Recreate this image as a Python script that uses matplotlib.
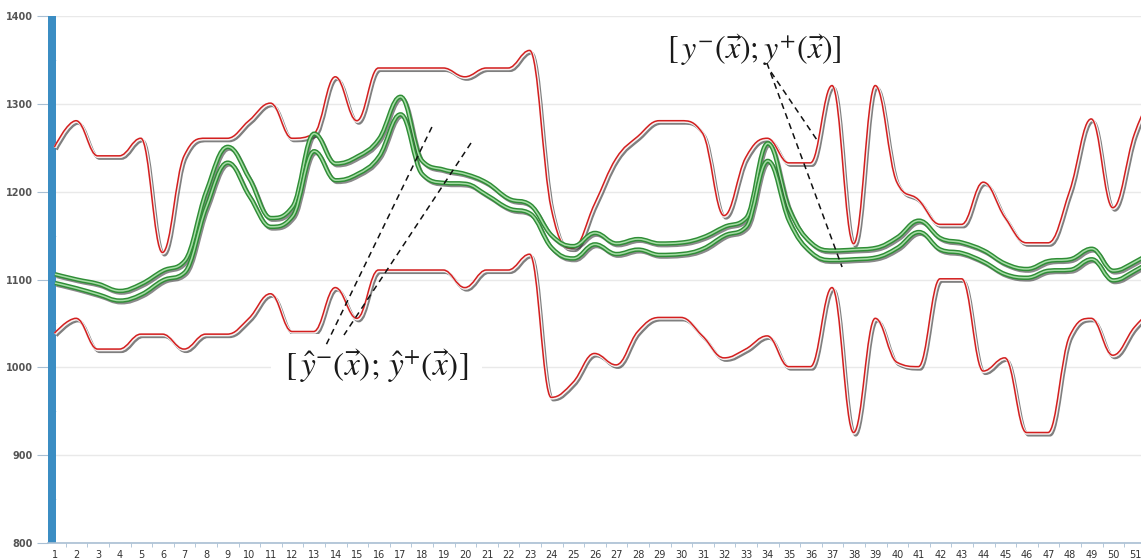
import numpy as np
import matplotlib
matplotlib.use("Agg")
import matplotlib.pyplot as plt
import matplotlib.patheffects as pe
from matplotlib.path import Path
from matplotlib.patches import PathPatch

plt.rcParams['mathtext.fontset'] = 'stix'

# categories on the x axis
categories = list(range(1, 53))
tick_labels = [str(c) for c in categories]

# upper / lower bounds (red)
upper_red = [1250, 1280, 1240, 1240, 1260, 1130, 1240, 1260, 1260, 1280,
             1300, 1260, 1265, 1330, 1280, 1340, 1340, 1340, 1340, 1330,
             1340, 1340, 1360, 1180, 1135, 1185, 1237, 1262, 1280, 1280,
             1266, 1172, 1238, 1260, 1232, 1232, 1320, 1140, 1320, 1210,
             1190, 1162, 1162, 1210, 1170, 1141, 1141, 1200, 1282, 1181,
             1265, 1320]
lower_red = [1038, 1055, 1020, 1020, 1037, 1037, 1020, 1037, 1037, 1055,
             1083, 1040, 1040, 1090, 1055, 1110, 1110, 1110, 1110, 1090,
             1110, 1110, 1128, 965, 982, 1015, 1002, 1040, 1056, 1056,
             1035, 1010, 1020, 1035, 1000, 1000, 1090, 925, 1055, 1005,
             1000, 1100, 1100, 995, 1010, 925, 925, 1035, 1055, 1013,
             1045, 1070]

# estimated bounds (green)
upper_green = [1106, 1100, 1095, 1087, 1095, 1110, 1121, 1200, 1251, 1215,
               1170, 1183, 1266, 1232, 1240, 1260, 1308, 1235, 1225, 1220,
               1210, 1192, 1185, 1150, 1138, 1153, 1141, 1146, 1141, 1142,
               1148, 1160, 1170, 1255, 1180, 1142, 1133, 1134, 1136, 1148,
               1167, 1147, 1142, 1133, 1118, 1112, 1121, 1123, 1135, 1110,
               1120, 1135]
lower_green = [1096, 1090, 1083, 1076, 1083, 1099, 1108, 1182, 1233, 1195,
               1160, 1172, 1246, 1213, 1220, 1240, 1288, 1220, 1210, 1209,
               1196, 1181, 1175, 1136, 1124, 1140, 1129, 1134, 1128, 1129,
               1135, 1150, 1160, 1235, 1166, 1131, 1122, 1123, 1125, 1136,
               1154, 1134, 1130, 1120, 1106, 1102, 1110, 1111, 1123, 1099,
               1110, 1125]

# the single blue bar at category 1
bar_category = [1]
bar_value = [1400]


def spline_path(xs, ys, smoothing=1.5):
    # Highcharts-like spline
    n = len(xs)
    denom = smoothing + 1
    ctrl = []
    for i in range(n):
        x, y = xs[i], ys[i]
        if i == 0 or i == n - 1:
            ctrl.append(((x, y), (x, y)))
            continue
        lx, ly = xs[i - 1], ys[i - 1]
        nx, ny = xs[i + 1], ys[i + 1]
        lcx = (smoothing * x + lx) / denom
        lcy = (smoothing * y + ly) / denom
        rcx = (smoothing * x + nx) / denom
        rcy = (smoothing * y + ny) / denom
        corr = ((rcy - lcy) * (rcx - x)) / (rcx - lcx) + y - rcy
        lcy += corr
        rcy += corr
        if lcy > ly and lcy > y:
            lcy = max(ly, y)
            rcy = 2 * y - lcy
        elif lcy < ly and lcy < y:
            lcy = min(ly, y)
            rcy = 2 * y - lcy
        if rcy > ny and rcy > y:
            rcy = max(ny, y)
            lcy = 2 * y - rcy
        elif rcy < ny and rcy < y:
            rcy = min(ny, y)
            lcy = 2 * y - rcy
        ctrl.append(((lcx, lcy), (rcx, rcy)))
    verts = [(xs[0], ys[0])]
    codes = [Path.MOVETO]
    for i in range(1, n):
        verts += [ctrl[i - 1][1], ctrl[i][0], (xs[i], ys[i])]
        codes += [Path.CURVE4] * 3
    return Path(verts, codes)


fig = plt.figure(figsize=(11.41, 5.6), dpi=100)
ax = fig.add_axes([48 / 1141, 17 / 560, 1093 / 1141, 527 / 560])

# blue bar
ax.bar([c - 0.14 for c in bar_category], [v - 800 for v in bar_value],
       bottom=800, width=0.37, color='#3b8dc3', zorder=2)

red_fx = [pe.SimpleLineShadow(offset=(1.1, -1.4), shadow_color='#2a2a2a',
                              alpha=0.6, linewidth=2.0),
          pe.Stroke(linewidth=2.2, foreground='#f6f0f0'),
          pe.Stroke(linewidth=1.1, foreground='#d41f1f', offset=(-0.4, 0.5))]
green_fx = [pe.SimpleLineShadow(offset=(1.1, -1.4), shadow_color='#2a2a2a',
                                alpha=0.55, linewidth=2.8),
            pe.Stroke(linewidth=3.2, foreground='#2f8d36'),
            pe.Stroke(linewidth=1.1, foreground='#a6dda6')]

for series, fx in [(upper_red, red_fx), (lower_red, red_fx),
                   (upper_green, green_fx), (lower_green, green_fx)]:
    patch = PathPatch(spline_path(categories, series), fill=False,
                      lw=1, path_effects=fx, zorder=3)
    ax.add_patch(patch)

# grid and axes styling
ax.set_yticks(range(800, 1401, 100))
ax.set_yticks(range(850, 1400, 100), minor=True)
ax.yaxis.grid(True, which='major', color='#e9e9e9', lw=1, zorder=0)
ax.set_axisbelow(True)
for s in ['left', 'right', 'top']:
    ax.spines[s].set_visible(False)
ax.spines['bottom'].set_color('#a9bfd3')
ax.spines['bottom'].set_linewidth(1.2)

ax.set_xticks(categories)
ax.set_xticklabels(tick_labels)
ax.set_xticks([c + 0.5 for c in categories], minor=True)
ax.tick_params(axis='x', which='major', length=0, pad=5, labelsize=7,
               labelcolor='#333333')
ax.tick_params(axis='x', which='minor', length=3, color='#a9bfd3')
ax.tick_params(axis='y', which='major', length=8, color='#a9bfd3',
               labelsize=7, labelcolor='#555555', pad=3)
ax.tick_params(axis='y', which='minor', length=6, direction='in',
               color='#b8d6ea')
for lab in ax.get_yticklabels():
    lab.set_fontweight('bold')

# limits last, set_xticks would widen them
ax.set_xlim(0.676, 51.28)
ax.set_ylim(800, 1400)

# annotations
ax.text(15.9, 1001,
        r'$[\,\hat{y}^{-}\left(\vec{x}\right);\,\hat{y}^{+}\left(\vec{x}\right)]$',
        fontsize=24, ha='center', va='center', color='#1a1a1a', zorder=5,
        bbox=dict(facecolor='white', edgecolor='none', pad=10))
ax.text(33.4, 1361,
        r'$[\,y^{-}\left(\vec{x}\right);y^{+}\left(\vec{x}\right)]$',
        fontsize=23, ha='center', va='center', color='#1a1a1a', zorder=5)

dash_lines = [((18.45, 1273.6), (13.55, 1025.4)),
              ((20.26, 1255.4), (14.38, 1036.8)),
              ((33.96, 1346.5), (37.44, 1114.2)),
              ((34.15, 1336.2), (36.28, 1258.8))]
for (x0, y0), (x1, y1) in dash_lines:
    ax.plot([x0, x1], [y0, y1], ls=(0, (4, 3)), color='#111111', lw=1.1,
            zorder=6)

fig.savefig('out.png', dpi=100)
